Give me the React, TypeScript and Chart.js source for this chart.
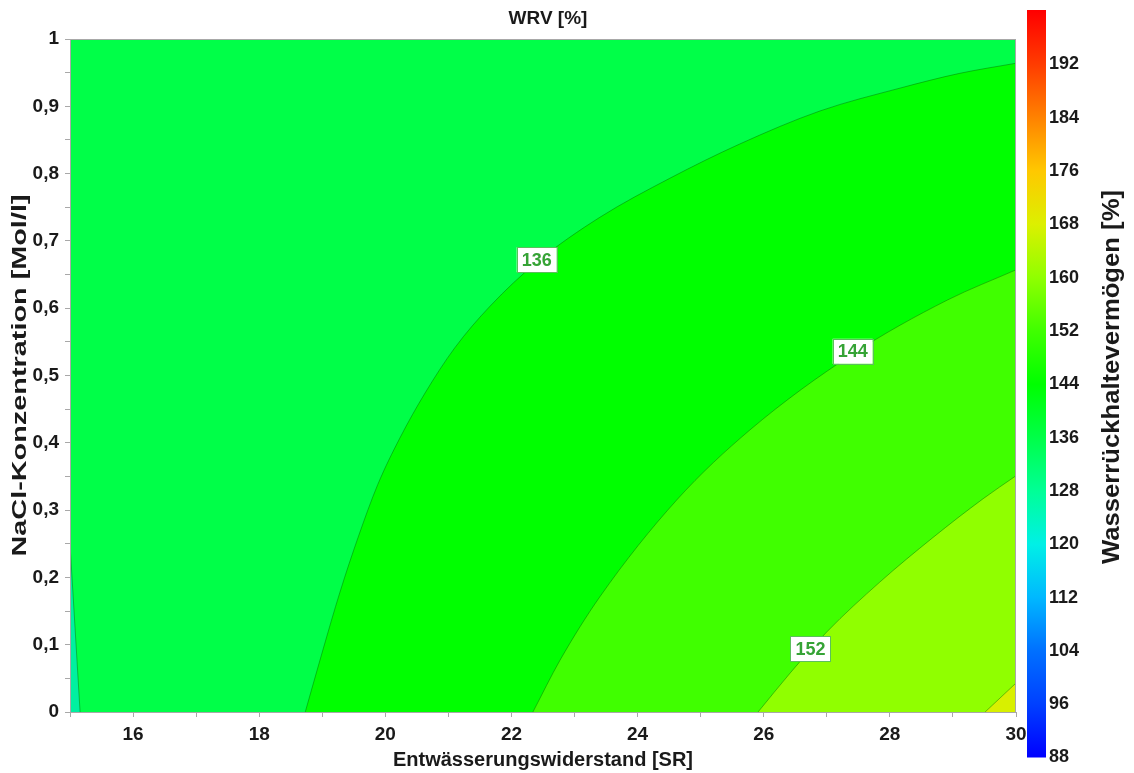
import { useEffect, useRef } from "react";
import { Chart, registerables } from "chart.js";

Chart.register(...registerables);

// ---- Data ----
const xMin = 15;
const xMax = 30;
const yMin = 0;
const yMax = 1;

// Contour line 128 (tiny sliver at left edge)
const c128X = [15, 15.16];
const c128Y = [0.25, 0];
// Contour line 136
const c136X = [18.73, 19.0, 19.28, 19.57, 19.88, 20.23, 20.63, 21.1, 21.66, 22.41, 23.4, 24.51, 25.62, 26.89, 28.16, 29.11, 30];
const c136Y = [0, 0.089, 0.178, 0.26, 0.338, 0.407, 0.474, 0.541, 0.603, 0.669, 0.735, 0.793, 0.844, 0.893, 0.927, 0.949, 0.964];
// Contour line 144
const c144X = [22.34, 22.77, 23.4, 24.62, 25.78, 27.41, 28.91, 30];
const c144Y = [0, 0.077, 0.171, 0.315, 0.419, 0.532, 0.612, 0.657];
// Contour line 152
const c152X = [25.91, 26.42, 27.0, 27.84, 28.68, 29.48, 30];
const c152Y = [0, 0.058, 0.119, 0.193, 0.259, 0.317, 0.351];
// Contour line 160
const c160X = [29.51, 30];
const c160Y = [0, 0.043];

// Contour labels
const labelValues = ["136", "144", "152"];
const labelX = [22.4, 27.41, 26.74];
const labelY = [0.672, 0.536, 0.094];

// Colour bar
const cbMin = 88;
const cbMax = 200;
const cbTicks = [88, 96, 104, 112, 120, 128, 136, 144, 152, 160, 168, 176, 184, 192];
const cbStopValues = [88, 96, 104, 112, 120, 128, 136, 144, 152, 160, 168, 176, 184, 192, 200];
const cbStopColors = [
  "#0000ff", "#0040ff", "#0070ff", "#00b8ff", "#00f0e6", "#00ff96", "#00ff48",
  "#00ff00", "#40ff00", "#90ff00", "#dcf000", "#ffc800", "#ff8200", "#ff3c00", "#ff0000",
];

const pts = (xs: number[], ys: number[]) => xs.map((x, i) => ({ x, y: ys[i] }));

const FONT = "Arial, 'Liberation Sans', sans-serif";

export default function App() {
  const ref = useRef<HTMLCanvasElement | null>(null);

  useEffect(() => {
    document.body.style.margin = "0";
    const canvas = ref.current;
    if (!canvas) return;

    const overlay = {
      id: "overlay",
      afterDraw(chart: any) {
        const { ctx, chartArea, scales } = chart;
        ctx.save();
        // plot border
        ctx.strokeStyle = "#a8a8a8";
        ctx.lineWidth = 1;
        ctx.strokeRect(chartArea.left + 0.5, chartArea.top + 0.5, chartArea.right - chartArea.left - 1, chartArea.bottom - chartArea.top);
        // title
        ctx.fillStyle = "#1a1a1a";
        ctx.font = `bold 19px ${FONT}`;
        ctx.textAlign = "center";
        ctx.textBaseline = "middle";
        ctx.fillText("WRV [%]", (chartArea.left + chartArea.right) / 2 + 5, 19);

        // y-axis title (stretched along its length like the reference)
        ctx.save();
        ctx.font = `bold 20px ${FONT}`;
        const yt = "NaCl-Konzentration [Mol/l]";
        const tw = ctx.measureText(yt).width;
        ctx.translate(20, (chartArea.top + chartArea.bottom) / 2);
        ctx.rotate(-Math.PI / 2);
        ctx.scale(362 / tw, 1);
        ctx.fillText(yt, 0, 0);
        ctx.restore();

        // contour labels
        ctx.font = `bold 18px ${FONT}`;
        labelValues.forEach((t, i) => {
          const px = scales.x.getPixelForValue(labelX[i]);
          const py = scales.y.getPixelForValue(labelY[i]);
          const w = 40, h = 25;
          ctx.fillStyle = "#ffffff";
          ctx.fillRect(px - w / 2, py - h / 2, w, h);
          ctx.strokeStyle = "#5cbf5c";
          ctx.lineWidth = 1;
          ctx.strokeRect(Math.round(px - w / 2) + 0.5, Math.round(py - h / 2) + 0.5, w, h);
          ctx.fillStyle = "#36a336";
          ctx.fillText(t, px, py + 1);
        });

        // colour bar
        const bx = 1027, bw = 19, btop = 11, bbot = 757.5;
        const grad = ctx.createLinearGradient(0, bbot, 0, btop);
        cbStopValues.forEach((v, i) => grad.addColorStop((v - cbMin) / (cbMax - cbMin), cbStopColors[i]));
        ctx.fillStyle = grad;
        ctx.fillRect(bx, 10, bw, bbot - 10);
        ctx.fillStyle = "#1a1a1a";
        ctx.font = `bold 18px ${FONT}`;
        ctx.textAlign = "left";
        cbTicks.forEach((v) => {
          const py = bbot - ((v - cbMin) / (cbMax - cbMin)) * (bbot - btop);
          ctx.fillText(String(v), 1049, py);
        });
        // colour bar title
        ctx.save();
        ctx.translate(1113, 377);
        ctx.rotate(-Math.PI / 2);
        ctx.textAlign = "center";
        ctx.font = `bold 23px ${FONT}`;
        const ct = "Wasserrückhaltevermögen [%]";
        const cw = ctx.measureText(ct).width;
        ctx.scale(374 / cw, 1);
        ctx.fillText(ct, 0, 0);
        ctx.restore();
        ctx.restore();
      },
    };

    const region = (data: any[], color: string, order: number, line: boolean) => ({
      data,
      showLine: true,
      fill: "origin",
      backgroundColor: color,
      borderColor: line ? "rgba(0,110,0,0.45)" : "rgba(0,0,0,0)",
      borderWidth: line ? 1 : 0,
      pointRadius: 0,
      cubicInterpolationMode: "monotone",
      order,
    });

    const chart = new Chart(canvas, {
      type: "scatter",
      data: {
        datasets: [
          region([{ x: xMin, y: yMax }, { x: xMax, y: yMax }], "#00ff48", 10, false),
          region(pts(c128X, c128Y), "#00f0a0", 9, true),
          region(pts(c136X, c136Y), "#00ff00", 8, true),
          region(pts(c144X, c144Y), "#40ff00", 7, true),
          region(pts(c152X, c152Y), "#90ff00", 6, true),
          region(pts(c160X, c160Y), "#d8f000", 5, true),
        ] as any,
      },
      options: {
        responsive: false,
        animation: false,
        events: [],
        layout: { padding: { top: 39, right: 118, left: 0, bottom: 0 } },
        plugins: { legend: { display: false }, tooltip: { enabled: false } },
        scales: {
          x: {
            type: "linear",
            min: xMin,
            max: xMax,
            afterFit: (s: any) => { s.height = 61; },
            border: { display: true, color: "#a8a8a8" },
            grid: { drawOnChartArea: false, drawTicks: true, tickLength: 5, color: "#a8a8a8" },
            ticks: {
              stepSize: 1,
              autoSkip: false,
              maxRotation: 0,
              padding: 6,
              color: "#1a1a1a",
              font: { family: FONT, size: 19, weight: "bold" },
              callback: (v: any) => (Math.round(v) % 2 === 0 ? String(v) : ""),
            },
            title: {
              display: true,
              text: "Entwässerungswiderstand [SR]",
              color: "#1a1a1a",
              font: { family: FONT, size: 20, weight: "bold" },
              padding: { top: 0, bottom: 1 },
            },
          },
          y: {
            type: "linear",
            min: yMin,
            max: yMax,
            afterFit: (s: any) => { s.width = 70; },
            border: { display: true, color: "#a8a8a8" },
            grid: { drawOnChartArea: false, drawTicks: true, tickLength: 5, color: "#a8a8a8" },
            ticks: {
              stepSize: 0.05,
              autoSkip: false,
              padding: 6,
              color: "#1a1a1a",
              font: { family: FONT, size: 19, weight: "bold" },
              callback: (v: any) => {
                const t = v * 10;
                if (Math.abs(t - Math.round(t)) > 1e-6) return "";
                if (Math.round(t) === 0) return "0";
                if (Math.round(t) === 10) return "1";
                return (Math.round(t) / 10).toFixed(1).replace(".", ",");
              },
            },
          },
        },
      },
      plugins: [overlay],
    } as any);

    return () => chart.destroy();
  }, []);

  return <canvas ref={ref} width={1134} height={773} style={{ display: "block" }} />;
}
